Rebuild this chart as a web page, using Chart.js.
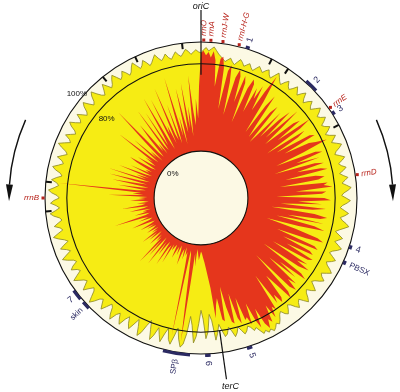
<!DOCTYPE html>
<html>
<head>
<meta charset="utf-8">
<script src="https://cdn.jsdelivr.net/npm/chart.js@4.4.1/dist/chart.umd.min.js"></script>
<style>
html, body { margin: 0; padding: 0; background: #fff; }
</style>
</head>
<body>
<canvas id="myChart" width="400" height="392"></canvas>
<script>
// one value per degree of the genome, clockwise from oriC
const STEP = 1;

// outer edge of the yellow band (%)
const yellowPct = [
  90, 93, 95, 92, 94, 96, 93, 90, 88, 86,
  84, 86, 88, 85, 83, 86, 89, 87, 84, 86,
  88, 85, 83, 86, 89, 87, 85, 88, 90, 86,
  84, 88, 92, 89, 86, 84, 88, 91, 87, 85,
  88, 92, 89, 86, 90, 93, 88, 85, 89, 92,
  88, 86, 90, 94, 91, 87, 89, 93, 90, 86,
  88, 92, 89, 85, 88, 93, 90, 87, 91, 95,
  92, 88, 86, 90, 94, 91, 87, 89, 93, 90,
  86, 89, 93, 90, 87, 91, 95, 92, 88, 86,
  90, 94, 91, 87, 85, 89, 93, 90, 86, 88,
  92, 95, 91, 87, 84, 88, 92, 89, 86, 90,
  94, 91, 87, 85, 89, 93, 90, 86, 88, 92,
  95, 91, 87, 89, 93, 90, 86, 84, 88, 92,
  89, 85, 87, 91, 94, 90, 86, 88, 92, 89,
  85, 83, 87, 90, 88, 84, 86, 90, 93, 91,
  94, 96, 93, 95, 92, 94, 90, 86, 88, 84,
  82, 86, 88, 84, 80, 85, 88, 82, 78, 84,
  86, 80, 74, 82, 88, 70, 64, 80, 86, 68,
  60, 72, 84, 90, 74, 66, 82, 92, 95, 88,
  78, 86, 94, 90, 80, 86, 94, 88, 82, 90,
  95, 86, 78, 84, 92, 96, 88, 82, 88, 94,
  90, 84, 88, 95, 91, 86, 89, 96, 92, 86,
  84, 89, 94, 90, 86, 88, 93, 97, 92, 87,
  85, 89, 94, 90, 86, 88, 92, 96, 91, 86,
  88, 93, 90, 85, 87, 92, 96, 91, 86, 89,
  94, 90, 85, 88, 93, 97, 92, 87, 89, 94,
  90, 86, 88, 93, 96, 91, 87, 90, 95, 92,
  87, 89, 94, 97, 92, 88, 90, 95, 91, 86,
  88, 93, 96, 91, 87, 89, 94, 90, 86, 88,
  93, 97, 92, 87, 89, 94, 90, 86, 88, 93,
  96, 91, 87, 89, 94, 90, 86, 88, 93, 96,
  91, 87, 89, 94, 97, 92, 88, 86, 90, 95,
  91, 87, 89, 93, 96, 92, 88, 90, 94, 91,
  87, 89, 93, 96, 92, 88, 90, 94, 91, 87,
  89, 92, 95, 91, 88, 90, 93, 89, 87, 90,
  93, 90, 88, 91, 94, 92, 89, 91, 93, 91
];

// red series (%)
const redPct = [
  90, 92, 88, 91, 86, 92, 84, 60, 86, 88,
  78, 40, 76, 82, 66, 36, 72, 80, 74, 50,
  76, 70, 32, 66, 76, 72, 45, 70, 60, 74,
  50, 70, 88, 62, 30, 60, 72, 42, 28, 58,
  66, 25, 40, 64, 35, 58, 70, 38, 76, 55,
  34, 66, 72, 45, 80, 68, 30, 70, 62, 38,
  72, 76, 44, 68, 74, 84, 60, 32, 70, 76,
  50, 72, 28, 66, 74, 48, 70, 76, 36, 64,
  72, 66, 30, 74, 70, 78, 44, 72, 68, 26,
  70, 76, 46, 68, 30, 72, 60, 22, 62, 74,
  68, 38, 72, 28, 64, 74, 50, 20, 48, 70,
  76, 60, 32, 70, 74, 40, 68, 72, 46, 74,
  70, 34, 72, 62, 76, 66, 28, 72, 78, 50,
  70, 40, 74, 66, 78, 72, 30, 74, 80, 62,
  50, 74, 78, 68, 76, 44, 80, 76, 86, 72,
  88, 84, 92, 86, 70, 88, 80, 62, 82, 74,
  76, 54, 78, 72, 48, 76, 74, 60, 40, 72,
  70, 50, 56, 68, 40, 30, 22, 16, 12, 8,
  6, 10, 14, 8, 4, 20, 8, 36, 90, 30,
  10, 6, 86, 24, 8, 12, 4, 16, 6, 10,
  22, 8, 4, 14, 6, 10, 18, 5, 8, 12,
  6, 26, 8, 12, 30, 6, 10, 22, 8, 34,
  12, 5, 28, 10, 38, 8, 14, 6, 20, 10,
  4, 18, 8, 24, 6, 12, 4, 16, 8, 5,
  14, 6, 20, 8, 4, 12, 26, 8, 5, 18,
  8, 14, 40, 10, 6, 20, 8, 12, 4, 24,
  10, 6, 30, 12, 8, 16, 5, 10, 22, 8,
  14, 6, 42, 10, 20, 12, 88, 16, 8, 34,
  12, 6, 40, 18, 8, 44, 14, 6, 46, 10,
  20, 8, 38, 12, 6, 28, 10, 14, 8, 24,
  32, 10, 6, 26, 14, 8, 20, 12, 52, 16,
  8, 38, 12, 20, 6, 30, 66, 14, 8, 28,
  44, 12, 20, 8, 56, 16, 10, 50, 14, 24,
  62, 18, 8, 58, 22, 30, 12, 66, 20, 14,
  48, 10, 26, 72, 16, 34, 8, 60, 30, 18,
  64, 22, 42, 14, 70, 36, 24, 48, 30, 60
];

const positions = yellowPct.map((v, i) => String(i * STEP));

const gridValues = [0, 80, 100];
const gridLabels = ['0%', '80%', '100%'];

// short black marks on the outer ring (degrees)
const ringMarks = [27, 34, 62, 265, 276, 321, 335, 353];

// rRNA operons (degrees)
const rrnNames = ['rrnO', 'rrnA', 'rrnJ-W', 'rrnI-H-G', 'rrnE', 'rrnD', 'rrnB'];
const rrnDeg = [1, 3.6, 8, 14, 55, 81.5, 270];

// other loci (degrees)
const lociNames = ['1', '2', '3', '4', 'PBSX', '5', '6', 'SPβ', 'skin', '7'];
const lociFrom = [16.5, 42, 56.5, 107.5, 113.5, 161, 176.5, 184, 225.5, 230];
const lociTo = [18, 47, 58, 109, 115, 163, 178.5, 194, 228.5, 234];

const YELLOW = '#f6ec14';
const RED = '#e5361c';
const CREAM = '#fcf9e4';
const NAVY = '#2b2a62';
const DARKRED = '#b8241c';

function at(s, deg, dist) {
  return s.getPointPosition(deg / STEP, dist);
}

function radialText(ctx, s, text, deg, dist, color, font) {
  const p = at(s, deg, dist);
  const a = (deg - 90) * Math.PI / 180;
  ctx.save();
  ctx.translate(p.x, p.y);
  if (deg > 180) {
    ctx.rotate(a + Math.PI);
    ctx.textAlign = 'right';
  } else {
    ctx.rotate(a);
    ctx.textAlign = 'left';
  }
  ctx.textBaseline = 'middle';
  ctx.fillStyle = color;
  ctx.font = font;
  ctx.fillText(text, 0, 0);
  ctx.restore();
}

function arrow(ctx, s, fromDeg, toDeg, tipDeg, r) {
  const ccw = toDeg < fromDeg;
  ctx.save();
  ctx.strokeStyle = '#111';
  ctx.fillStyle = '#111';
  ctx.lineWidth = 1.4;
  ctx.beginPath();
  ctx.arc(s.xCenter, s.yCenter, r, (fromDeg - 90) * Math.PI / 180, (toDeg - 90) * Math.PI / 180, ccw);
  ctx.stroke();
  const tip = at(s, tipDeg, r);
  const b1 = at(s, toDeg, r - 3.5);
  const b2 = at(s, toDeg, r + 3.5);
  ctx.beginPath();
  ctx.moveTo(tip.x, tip.y);
  ctx.lineTo(b1.x, b1.y);
  ctx.lineTo(b2.x, b2.y);
  ctx.closePath();
  ctx.fill();
  ctx.restore();
}

const ringDecor = {
  id: 'ringDecor',
  beforeDatasetsDraw(chart) {
    const s = chart.scales.r;
    const ctx = chart.ctx;
    ctx.save();
    ctx.fillStyle = CREAM;
    ctx.beginPath();
    ctx.arc(s.xCenter, s.yCenter, s.getDistanceFromCenterForValue(100), 0, Math.PI * 2);
    ctx.fill();
    ctx.restore();
  },
  afterDraw(chart) {
    const s = chart.scales.r;
    const ctx = chart.ctx;
    const rOut = s.getDistanceFromCenterForValue(100);
    const labFont = 'italic 8px "Liberation Sans", Arial, sans-serif';
    const numFont = '8px "Liberation Sans", Arial, sans-serif';

    // percent labels
    ctx.save();
    ctx.fillStyle = '#111';
    ctx.font = numFont;
    ctx.textAlign = 'center';
    ctx.textBaseline = 'middle';
    const labOff = [-10, -11, 6];
    gridValues.forEach((v, i) => {
      const p = at(s, -50, s.getDistanceFromCenterForValue(v) + labOff[i]);
      ctx.fillText(gridLabels[i], p.x, p.y);
    });
    ctx.restore();

    // black ring marks
    ctx.save();
    ctx.strokeStyle = '#111';
    ctx.lineWidth = 2;
    ringMarks.forEach(d => {
      const a = at(s, d, rOut - 6);
      const b = at(s, d, rOut);
      ctx.beginPath();
      ctx.moveTo(a.x, a.y);
      ctx.lineTo(b.x, b.y);
      ctx.stroke();
    });
    ctx.restore();

    // loci
    ctx.save();
    ctx.strokeStyle = NAVY;
    ctx.lineWidth = 3;
    lociNames.forEach((name, i) => {
      ctx.beginPath();
      ctx.arc(s.xCenter, s.yCenter, rOut + 1.5,
        (lociFrom[i] - 90) * Math.PI / 180, (lociTo[i] - 90) * Math.PI / 180);
      ctx.stroke();
      const mid = (lociFrom[i] + lociTo[i]) / 2;
      const font = /^\d$/.test(name) ? '9px "Liberation Sans", Arial, sans-serif' : numFont;
      radialText(ctx, s, name, mid, rOut + 7, NAVY, font);
    });
    ctx.restore();

    // rRNA operons
    ctx.save();
    rrnNames.forEach((name, i) => {
      const p = at(s, rrnDeg[i], rOut + 2);
      ctx.fillStyle = DARKRED;
      ctx.fillRect(p.x - 1.5, p.y - 1.5, 3, 3);
      radialText(ctx, s, name, rrnDeg[i], rOut + 6, DARKRED, labFont);
    });
    ctx.restore();

    // oriC and terC
    ctx.save();
    ctx.strokeStyle = '#111';
    ctx.lineWidth = 1.2;
    const o1 = at(s, 0, s.getDistanceFromCenterForValue(70));
    const o2 = at(s, 0, rOut + 32);
    ctx.beginPath(); ctx.moveTo(o1.x, o1.y); ctx.lineTo(o2.x, o2.y); ctx.stroke();
    const t1 = at(s, 172, s.getDistanceFromCenterForValue(80));
    const t2 = at(s, 172, rOut + 27);
    ctx.beginPath(); ctx.moveTo(t1.x, t1.y); ctx.lineTo(t2.x, t2.y); ctx.stroke();
    ctx.fillStyle = '#111';
    ctx.font = 'italic 9px "Liberation Sans", Arial, sans-serif';
    ctx.textAlign = 'center';
    ctx.textBaseline = 'middle';
    const oL = at(s, 0, rOut + 36);
    ctx.fillText('oriC', oL.x, oL.y);
    const tL = at(s, 172, rOut + 34);
    ctx.fillText('terC', tL.x + 3, tL.y);
    ctx.restore();

    // replication direction arrows
    arrow(ctx, s, -66, -86, -91, rOut + 36);
    arrow(ctx, s, 66, 86, 91, rOut + 36);
  }
};

new Chart(document.getElementById('myChart'), {
  type: 'radar',
  data: {
    labels: positions,
    datasets: [
      {
        label: 'red',
        data: redPct,
        backgroundColor: RED,
        borderColor: 'rgba(0,0,0,0)',
        borderWidth: 0,
        pointRadius: 0,
        fill: 'origin'
      },
      {
        label: 'yellow',
        data: yellowPct,
        backgroundColor: YELLOW,
        borderColor: '#8a8626',
        borderWidth: 0.8,
        pointRadius: 0,
        fill: 'origin'
      }
    ]
  },
  options: {
    responsive: false,
    animation: false,
    devicePixelRatio: 1,
    layout: { padding: { left: 45, right: 43, top: 42, bottom: 38 } },
    plugins: {
      legend: { display: false },
      tooltip: { enabled: false }
    },
    scales: {
      r: {
        min: -43,
        max: 100,
        startAngle: 0,
        afterBuildTicks: s => { s.ticks = gridValues.map(v => ({ value: v })); },
        ticks: { display: false },
        grid: { circular: true, color: '#111', lineWidth: 1.1, z: 1 },
        angleLines: { display: false },
        pointLabels: { display: false }
      }
    }
  },
  plugins: [ringDecor]
});
</script>
</body>
</html>
